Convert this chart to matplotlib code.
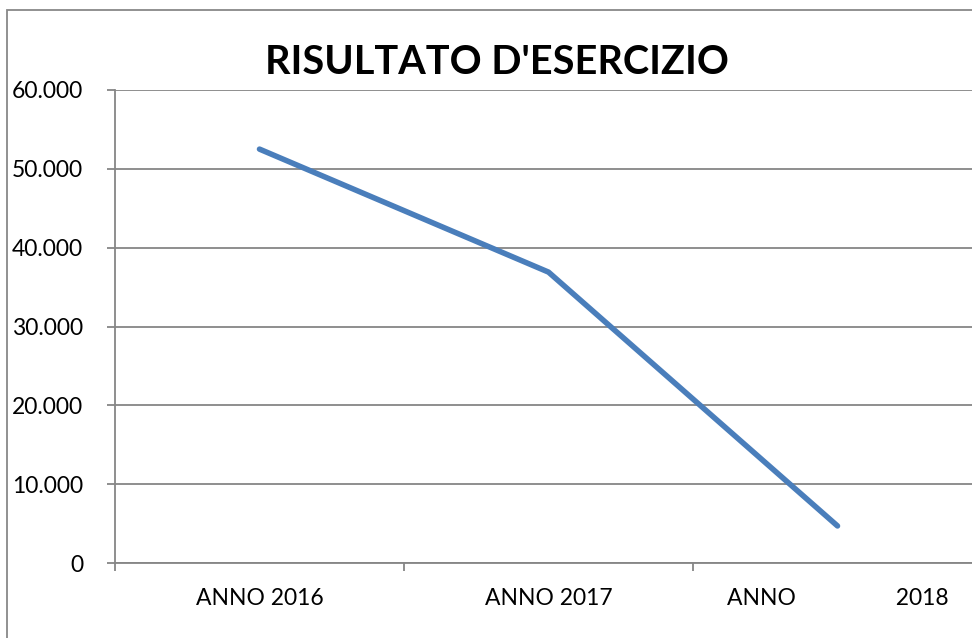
import matplotlib.pyplot as plt
from matplotlib.patches import Rectangle
from matplotlib.ticker import FuncFormatter

# Dati
anni = ["ANNO 2016", "ANNO 2017", "ANNO                 2018"]
risultato = [52500, 36900, 4700]
titolo = "RISULTATO D'ESERCIZIO"

plt.rcParams['font.family'] = ['Lato', 'DejaVu Sans']

W, H = 972, 638
fig = plt.figure(figsize=(W / 100, H / 100), dpi=100)
# plot area: x 115..982 (cut on the right), y 90..563
ax = fig.add_axes([115 / W, (H - 563) / H, 867 / W, 473 / H])

x = range(len(anni))
ax.plot(x, risultato, color='#4A7EBB', lw=4, solid_capstyle='round', solid_joinstyle='round')

ax.set_xlim(-0.5, len(anni) - 0.5)
ax.set_ylim(0, 60000)
ax.set_yticks(range(0, 60001, 10000))
ax.yaxis.set_major_formatter(FuncFormatter(lambda v, p: f"{int(v):,}".replace(',', '.')))
ax.set_xticks(list(x))
ax.set_xticklabels(anni)
ax.set_xticks([i - 0.5 for i in range(len(anni) + 1)], minor=True)

ax.grid(axis='y', color='#868686', lw=1.3)
ax.set_axisbelow(True)
for s in ['top', 'right']:
    ax.spines[s].set_visible(False)
ax.spines['left'].set_color('#868686')
ax.spines['bottom'].set_color('#868686')
ax.spines['left'].set_linewidth(1.3)
ax.spines['bottom'].set_linewidth(1.3)

ax.tick_params(axis='y', length=6, width=1.3, color='#868686', pad=17, labelsize=16.5)
ax.tick_params(axis='x', which='major', length=0, pad=18, labelsize=16.5)
ax.tick_params(axis='x', which='minor', length=6, width=1.3, color='#868686')

fig.text(497 / W, 1 - 63 / H, titolo, ha='center', va='center', fontsize=28.5, fontweight='bold')

# bordo del grafico
fig.patches.append(Rectangle((7 / W, -0.1), 1.2, 1 - 10 / H + 0.1, transform=fig.transFigure,
                             fill=False, edgecolor='#888888', lw=1.3))

fig.savefig('out.png', dpi=100)
